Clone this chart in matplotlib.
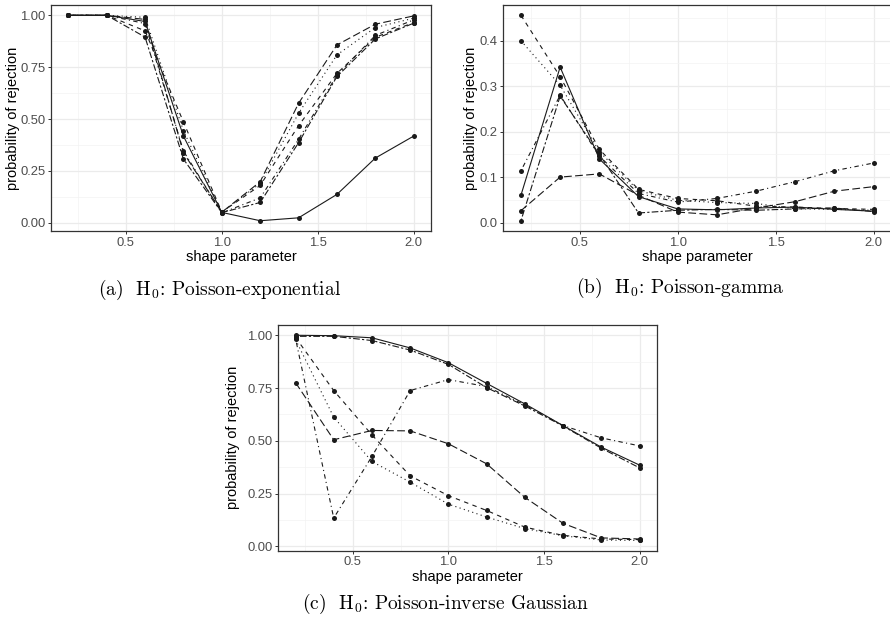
import numpy as np
import matplotlib
matplotlib.use("Agg")
import matplotlib.pyplot as plt
from matplotlib.ticker import MultipleLocator

plt.rcParams["font.family"] = ["Liberation Sans", "DejaVu Sans"]
plt.rcParams["mathtext.fontset"] = "cm"

shape = [0.2, 0.4, 0.6, 0.8, 1.0, 1.2, 1.4, 1.6, 1.8, 2.0]

# (a) H0: Poisson-exponential
a_solid    = [1.0, 1.0, 0.970, 0.418, 0.050, 0.010, 0.024, 0.137, 0.312, 0.418]
a_dashed   = [1.0, 1.0, 0.925, 0.486, 0.052, 0.180, 0.468, 0.720, 0.894, 0.965]
a_dotted   = [1.0, 1.0, 0.990, 0.444, 0.050, 0.190, 0.528, 0.809, 0.941, 0.986]
a_dotdash  = [1.0, 1.0, 0.960, 0.346, 0.048, 0.120, 0.402, 0.712, 0.903, 0.978]
a_longdash = [1.0, 1.0, 0.980, 0.338, 0.051, 0.198, 0.576, 0.857, 0.957, 0.997]
a_twodash  = [1.0, 1.0, 0.895, 0.307, 0.049, 0.098, 0.386, 0.705, 0.886, 0.962]

# (b) H0: Poisson-gamma
b_solid    = [0.060, 0.342, 0.140, 0.057, 0.030, 0.028, 0.032, 0.034, 0.029, 0.025]
b_dashed   = [0.456, 0.321, 0.161, 0.073, 0.053, 0.048, 0.036, 0.034, 0.031, 0.029]
b_dotted   = [0.400, 0.302, 0.156, 0.070, 0.049, 0.044, 0.042, 0.030, 0.029, 0.027]
b_dotdash  = [0.114, 0.280, 0.146, 0.064, 0.045, 0.053, 0.069, 0.090, 0.114, 0.131]
b_longdash = [0.026, 0.100, 0.107, 0.060, 0.023, 0.017, 0.032, 0.046, 0.069, 0.079]
b_twodash  = [0.004, 0.278, 0.150, 0.021, 0.027, 0.029, 0.027, 0.030, 0.032, 0.024]

# (c) H0: Poisson-inverse Gaussian
c_solid    = [1.000, 0.998, 0.988, 0.940, 0.870, 0.772, 0.675, 0.572, 0.470, 0.385]
c_twodash  = [0.995, 0.995, 0.975, 0.930, 0.862, 0.752, 0.665, 0.570, 0.465, 0.372]
c_dotdash  = [0.985, 0.134, 0.426, 0.738, 0.790, 0.757, 0.670, 0.572, 0.514, 0.476]
c_longdash = [0.776, 0.505, 0.549, 0.547, 0.486, 0.391, 0.232, 0.109, 0.040, 0.035]
c_dashed   = [0.990, 0.738, 0.528, 0.334, 0.240, 0.170, 0.091, 0.052, 0.035, 0.032]
c_dotted   = [0.980, 0.612, 0.402, 0.304, 0.200, 0.139, 0.084, 0.050, 0.030, 0.028]

captions = [
    r"(a)  $\mathrm{H}_0$: Poisson-exponential",
    r"(b)  $\mathrm{H}_0$: Poisson-gamma",
    r"(c)  $\mathrm{H}_0$: Poisson-inverse Gaussian",
]

# R-style line types (on/off lengths in line-width units)
LTY = {
    "solid": "-",
    "dashed": (0, (4, 4)),
    "dotted": (0, (1, 3)),
    "dotdash": (0, (1, 3, 4, 3)),
    "longdash": (0, (7, 3)),
    "twodash": (0, (2, 2, 6, 2)),
}

panels = [
    dict(rect=[51 / 890, 1 - 231 / 617, 380 / 890, 226 / 617],
         series={"solid": a_solid, "dashed": a_dashed, "dotted": a_dotted,
                 "dotdash": a_dotdash, "longdash": a_longdash, "twodash": a_twodash},
         ymajor=0.25, yfmt="{:.2f}", cap_xy=(220, 290), ylab_x=20.5),
    dict(rect=[503.3 / 890, 1 - 231 / 617, 388 / 890, 226 / 617],
         series={"solid": b_solid, "dashed": b_dashed, "dotted": b_dotted,
                 "dotdash": b_dotdash, "longdash": b_longdash, "twodash": b_twodash},
         ymajor=0.1, yfmt="{:.1f}", cap_xy=(680, 288), ylab_x=478.5),
    dict(rect=[278.3 / 890, 1 - 550.7 / 617, 378.4 / 890, 225.7 / 617],
         series={"solid": c_solid, "dashed": c_dashed, "dotted": c_dotted,
                 "dotdash": c_dotdash, "longdash": c_longdash, "twodash": c_twodash},
         ymajor=0.25, yfmt="{:.2f}", cap_xy=(445, 604), ylab_x=240.5),
]

fig = plt.figure(figsize=(8.9, 6.17), dpi=100)

for p, cap in zip(panels, captions):
    ax = fig.add_axes(p["rect"])
    allv = np.concatenate([np.asarray(v) for v in p["series"].values()])
    ymin, ymax = allv.min(), allv.max()
    ypad = 0.05 * (ymax - ymin)
    xpad = 0.05 * (max(shape) - min(shape))
    ax.set_xlim(min(shape) - xpad, max(shape) + xpad)
    ax.set_ylim(ymin - ypad, ymax + ypad)

    ax.xaxis.set_major_locator(MultipleLocator(0.5))
    ax.xaxis.set_minor_locator(MultipleLocator(0.25))
    ax.yaxis.set_major_locator(MultipleLocator(p["ymajor"]))
    ax.yaxis.set_minor_locator(MultipleLocator(p["ymajor"] / 2))
    ax.grid(which="major", color="#EBEBEB", lw=0.9)
    ax.grid(which="minor", color="#F3F3F3", lw=0.5)
    ax.set_axisbelow(True)

    for name, vals in p["series"].items():
        ax.plot(shape, vals, color="#1A1A1A", lw=0.8, ls=LTY[name],
                marker="o", ms=3.6, mfc="#1A1A1A", mec="none", zorder=3)

    yt = ax.get_yticks()
    yt = [t for t in yt if ymin - ypad <= t <= ymax + ypad]
    ax.set_yticks(yt)
    ax.set_yticklabels([p["yfmt"].format(abs(t) if abs(t) < 1e-9 else t) for t in yt])
    xt = [t for t in ax.get_xticks() if min(shape) - xpad <= t <= max(shape) + xpad]
    ax.set_xticks(xt)
    ax.set_xticklabels(["{:.1f}".format(t) for t in xt])

    for s in ax.spines.values():
        s.set_color("#333333")
        s.set_linewidth(0.9)
    ax.tick_params(which="major", length=2.5, width=0.7, color="#333333",
                   labelcolor="#4D4D4D", labelsize=9.4, pad=1.5)
    ax.tick_params(which="minor", length=0)

    ax.set_xlabel("shape parameter", fontsize=10.5, color="black", labelpad=1)
    ax.set_ylabel("probability of rejection", fontsize=10.5, color="black")
    bb = ax.get_position()
    ax.yaxis.set_label_coords((p["ylab_x"] - bb.x0 * 890) / (bb.width * 890), 0.5)

    fig.text(p["cap_xy"][0] / 890, 1 - p["cap_xy"][1] / 617, cap,
             family="cmr10", fontsize=14, ha="center", va="center")

fig.savefig("out.png", dpi=100)
